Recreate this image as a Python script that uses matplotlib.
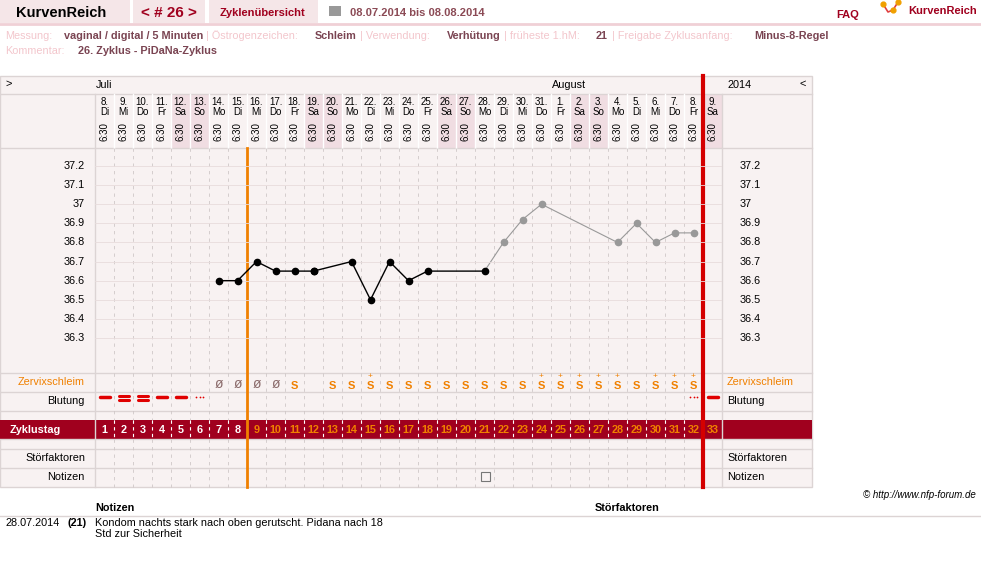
import numpy as np
import matplotlib
matplotlib.use("Agg")
import matplotlib.pyplot as plt
from matplotlib.patches import Rectangle

plt.rcParams["font.family"] = ["Liberation Sans", "DejaVu Sans"]

# ---- data ----
dates = ["8.", "9.", "10.", "11.", "12.", "13.", "14.", "15.", "16.", "17.", "18.", "19.", "20.",
         "21.", "22.", "23.", "24.", "25.", "26.", "27.", "28.", "29.", "30.", "31.",
         "1.", "2.", "3.", "4.", "5.", "6.", "7.", "8.", "9."]
weekdays = ["Di", "Mi", "Do", "Fr", "Sa", "So", "Mo"] * 4 + ["Di", "Mi", "Do", "Fr", "Sa"]
cycle_days = np.arange(1, 34)
temp_days_black = [7, 8, 9, 10, 11, 12, 14, 15, 16, 17, 18, 21]
temp_black = [36.6, 36.6, 36.7, 36.65, 36.65, 36.65, 36.7, 36.5, 36.7, 36.6, 36.65, 36.65]
temp_days_gray = [22, 23, 24, 28, 29, 30, 31, 32]
temp_gray = [36.8, 36.92, 37.0, 36.8, 36.9, 36.8, 36.85, 36.85]
temp_ticks = [37.2, 37.1, 37.0, 36.9, 36.8, 36.7, 36.6, 36.5, 36.4, 36.3]
mucus = {7: "ø", 8: "ø", 9: "ø", 10: "ø", 11: "S"}
for d in range(13, 33):
    mucus[d] = "S"
mucus_plus = [15, 24, 25, 26, 27, 28, 30, 31, 32]
bleeding = {1: "-", 2: "=", 3: "=", 4: "-", 5: "-", 6: "...", 32: "...", 33: "-"}
note_days = [21]

W, H = 981, 561
fig = plt.figure(figsize=(W / 100, H / 100), dpi=100)
ax = fig.add_axes([0, 0, 1, 1])
ax.set_xlim(0, W); ax.set_ylim(H, 0); ax.axis("off")

RED = "#a0001e"; ORANGE = "#f08000"; PINK = "#f3c6cc"; VAL = "#7a4452"
BG = "#f8f2f2"; LINE = "#dcd4d4"; WEEKEND = "#f0dde2"

# ---- header ----
for x0, x1 in [(0, 130), (133, 205), (209, 318)]:
    ax.add_patch(Rectangle((x0, 0), x1 - x0, 23, color="#f5e6e8", lw=0))
ax.plot([0, W], [24, 24], color="#f0d0d6", lw=2)
ax.text(16, 13, "KurvenReich", fontsize=10.5, fontweight="bold", color="black", va="center")
ax.text(169, 13, "< # 26 >", fontsize=11, fontweight="bold", color=RED, va="center", ha="center")
ax.text(263, 13, "Zyklenübersicht", fontsize=8, fontweight="bold", color=RED, va="center", ha="center")
ax.add_patch(Rectangle((329, 6), 12, 10, color="#999999", lw=0))
ax.text(350, 13, "08.07.2014 bis 08.08.2014", fontsize=8, fontweight="bold", color="#8b4a55", va="center")
ax.text(836, 15, "FAQ", fontsize=8, fontweight="bold", color=RED, va="center")
ax.plot([883, 888, 893, 898], [4, 12, 10, 2], color="#e04040", lw=1.2)
ax.scatter([883, 893, 898], [4, 10, 2], s=12, color="#f0a000", zorder=3)
ax.text(908, 11, "KurvenReich", fontsize=8, fontweight="bold", color=RED, va="center")

FS = 7.8
ax.text(5, 36, "Messung:", fontsize=FS, color=PINK, va="center")
ax.text(64, 36, "vaginal / digital / 5 Minuten", fontsize=FS, fontweight="bold", color=VAL, va="center")
ax.text(206, 36, "| Östrogenzeichen:", fontsize=FS, color=PINK, va="center")
ax.text(315, 36, "Schleim", fontsize=FS, fontweight="bold", color=VAL, va="center")
ax.text(360, 36, "| Verwendung:", fontsize=FS, color=PINK, va="center")
ax.text(447, 36, "Verhütung", fontsize=FS, fontweight="bold", color=VAL, va="center")
ax.text(504, 36, "| früheste 1.hM:", fontsize=FS, color=PINK, va="center")
ax.text(596, 36, "21", fontsize=FS, fontweight="bold", color=VAL, va="center")
ax.text(612, 36, "| Freigabe Zyklusanfang:", fontsize=FS, color=PINK, va="center")
ax.text(754, 36, "Minus-8-Regel", fontsize=FS, fontweight="bold", color=VAL, va="center")
ax.text(5, 51, "Kommentar:", fontsize=FS, color=PINK, va="center")
ax.text(78, 51, "26. Zyklus - PiDaNa-Zyklus", fontsize=FS, fontweight="bold", color=VAL, va="center")

# ---- table frame ----
X0, CW, N = 95, 19, 33
XE = X0 + CW * N  # 722
ax.add_patch(Rectangle((0, 76), 812, 411, color=BG, lw=0))
ax.add_patch(Rectangle((0, 76), 812, 411, fill=False, ec=LINE, lw=1))
for i, wd in enumerate(weekdays):
    if wd in ("Sa", "So"):
        ax.add_patch(Rectangle((X0 + CW * i, 94), CW, 54, color=WEEKEND, lw=0))
ax.add_patch(Rectangle((0, 420), 812, 19, color=RED, lw=0))
for y in [94, 148, 373, 392, 411, 439, 449, 468]:
    ax.plot([0, 812], [y, y], color=LINE, lw=1)
for x in [X0, XE]:
    ax.plot([x, x], [94, 487], color=LINE, lw=1)
for i in range(1, N):
    x = X0 + CW * i
    ax.plot([x, x], [94, 148], color="white", lw=1)
    ax.plot([x, x], [148, 420], color="#cfc8c8", lw=0.6, ls=(0, (4, 5)))
    ax.plot([x, x], [420, 439], color="white", lw=0.8, ls=(0, (3, 3)))
    ax.plot([x, x], [439, 487], color="#cfc8c8", lw=0.6, ls=(0, (4, 5)))

ax.text(5, 84, ">", fontsize=8, va="center")
ax.text(806, 84, "<", fontsize=8, va="center", ha="right")
ax.text(96, 85, "Juli", fontsize=FS, va="center")
ax.text(552, 85, "August", fontsize=FS, va="center")
ax.text(727, 85, "2014", fontsize=FS, va="center")
for i in range(N):
    xc = X0 + CW * i + CW / 2
    ax.text(xc, 102, dates[i], fontsize=7, ha="center", va="center")
    ax.text(xc, 112, weekdays[i], fontsize=7, ha="center", va="center")
    ax.text(xc, 132, "6:30", fontsize=7, ha="center", va="center", rotation=90)

ax.text(85, 382, "Zervixschleim", fontsize=FS, color=ORANGE, ha="right", va="center")
ax.text(85, 401, "Blutung", fontsize=FS, ha="right", va="center")
ax.text(10, 430, "Zyklustag", fontsize=FS, fontweight="bold", color="white", va="center")
ax.text(85, 458, "Störfaktoren", fontsize=FS, ha="right", va="center")
ax.text(85, 477, "Notizen", fontsize=FS, ha="right", va="center")
ax.text(727, 382, "Zervixschleim", fontsize=FS, color=ORANGE, va="center")
ax.text(727, 401, "Blutung", fontsize=FS, va="center")
ax.text(727, 458, "Störfaktoren", fontsize=FS, va="center")
ax.text(727, 477, "Notizen", fontsize=FS, va="center")

def cx(d):
    return X0 + CW * (d - 1) + CW / 2

for d in cycle_days:
    ax.text(cx(d), 430, str(d), fontsize=FS, fontweight="bold",
            color="white" if d <= 8 else ORANGE, ha="center", va="center")
for d, m in mucus.items():
    if m == "ø":
        ax.text(cx(d), 384, "ø", fontsize=10, color="#8a6a6a", ha="center", va="center")
    else:
        ax.text(cx(d), 386, m, fontsize=8, fontweight="bold", color=ORANGE, ha="center", va="center")
for d in mucus_plus:
    ax.text(cx(d), 376, "+", fontsize=6, color=ORANGE, ha="center", va="center")
for d, b in bleeding.items():
    if b == "...":
        ax.scatter([cx(d) - 3.5, cx(d), cx(d) + 3.5], [397] * 3, s=1.6, lw=0, color="#e00000", zorder=4)
    elif b == "=":
        ax.plot([cx(d) - 5, cx(d) + 5], [396, 396], color="#e00000", lw=2.2, solid_capstyle="round")
        ax.plot([cx(d) - 5, cx(d) + 5], [400, 400], color="#e00000", lw=2.2, solid_capstyle="round")
    else:
        ax.plot([cx(d) - 5, cx(d) + 5], [397, 397], color="#e00000", lw=2.5, solid_capstyle="round")
for d in note_days:
    ax.add_patch(Rectangle((cx(d) - 4, 472), 9, 9, fill=False, ec="#777777", lw=0.8))

ax.plot([X0 + CW * 8] * 2, [148, 487], color=ORANGE, lw=2, zorder=5)
ax.plot([X0 + CW * 32] * 2, [76, 487], color="#d40000", lw=3, zorder=5)

# ---- temperature chart ----
tax = fig.add_axes([X0 / W, 1 - 373 / H, (XE - X0) / W, 225 / H])
tax.set_xlim(0.5, 33.5)
tax.set_ylim(36.3 - 35 / 191, 37.2 + 18 / 191)
tax.axis("off"); tax.patch.set_alpha(0)
for t in temp_ticks:
    tax.axhline(t, color="#e8dcdc", lw=0.6)
    ax.text(85, 166 + (37.2 - t) * 191, f"{t:g}", fontsize=FS, ha="right", va="center")
    ax.text(740, 166 + (37.2 - t) * 191, f"{t:g}", fontsize=FS, va="center")
tax.plot(temp_days_black[:6], temp_black[:6], color="black", lw=1, marker="o", ms=4.5)
tax.plot(temp_days_black[5:], temp_black[5:], color="black", lw=1, marker="o", ms=4.5)
tax.plot([21, 22], [36.65, 36.8], color="#999999", lw=0.8, zorder=1)
tax.plot(temp_days_gray, temp_gray, color="#999999", lw=0.8, marker="o", ms=4.5)

# ---- footer ----
ax.text(976, 495, "© http://www.nfp-forum.de", fontsize=7, style="italic", ha="right", va="center")
ax.text(95, 508, "Notizen", fontsize=FS, fontweight="bold", va="center")
ax.text(595, 508, "Störfaktoren", fontsize=FS, fontweight="bold", va="center")
ax.plot([0, W], [516, 516], color=LINE, lw=1)
ax.text(5, 523, "28.07.2014", fontsize=FS, va="center")
ax.text(68, 523, "(21)", fontsize=FS, fontweight="bold", va="center")
ax.text(95, 523, "Kondom nachts stark nach oben gerutscht. Pidana nach 18", fontsize=FS, va="center")
ax.text(95, 534, "Std zur Sicherheit", fontsize=FS, va="center")

fig.savefig("out.png", dpi=100, facecolor="white")
